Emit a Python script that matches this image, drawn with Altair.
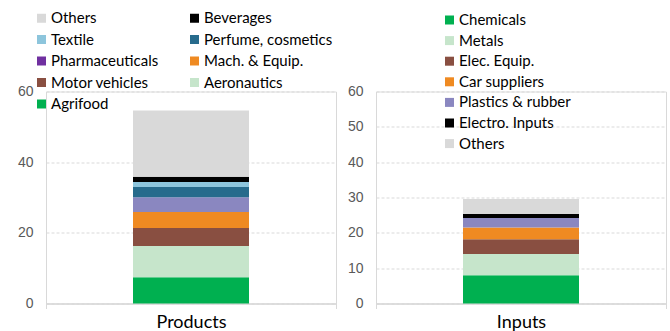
import altair as alt
import pandas as pd

# Products panel: stacked bottom -> top
prod_cats = ["Agrifood", "Aeronautics", "Motor vehicles", "Mach. & Equip.",
             "Pharmaceuticals", "Perfume, cosmetics", "Textile", "Beverages", "Others"]
prod_vals = [7.4, 8.9, 5.1, 4.5, 4.2, 2.9, 1.4, 1.5, 18.7]
prod_colors = ["#00b050", "#c6e5cb", "#894f41", "#ef8a22",
               "#7030a0", "#276b8c", "#8dc5dc", "#000000", "#d9d9d9"]
# legend fills column by column: left column first, then right column
prod_legend_order = ["Others", "Textile", "Pharmaceuticals", "Motor vehicles", "Agrifood",
                     "Beverages", "Perfume, cosmetics", "Mach. & Equip.", "Aeronautics"]

# Inputs panel: stacked bottom -> top
inp_cats = ["Chemicals", "Metals", "Elec. Equip.", "Car suppliers",
            "Plastics & rubber", "Electro. Inputs", "Others"]
inp_vals = [8.0, 6.0, 4.2, 3.3, 2.7, 1.1, 4.3]
inp_colors = ["#00b050", "#c6e5cb", "#894f41", "#ef8a22",
              "#8a87c0", "#000000", "#d9d9d9"]

pharma_bar_fill = "#8a87c0"

LEGEND_FONT = "Lato"
NUM_FONT = "Liberation Sans"
W, H = 290, 212

prod_df = pd.DataFrame({"group": "Products", "cat": prod_cats,
                        "val": prod_vals, "ord": range(len(prod_cats))})
inp_df = pd.DataFrame({"group": "Inputs", "cat": inp_cats,
                       "val": inp_vals, "ord": range(len(inp_cats))})

color_map = dict(zip(prod_cats, prod_colors))


def x_enc():
    return alt.X("group:N", title=None,
                 scale=alt.Scale(paddingInner=0, paddingOuter=0),
                 axis=alt.Axis(labelAngle=0, labelFont=LEGEND_FONT, labelFontSize=18,
                               labelColor="#000000", labelPadding=5,
                               domainColor="#d9d9d9", domainWidth=1.5,
                               tickColor="#d9d9d9", tickSize=5, tickBand="extent",
                               grid=True, gridColor="#d9d9d9", gridDash=[]))


def y_enc(step):
    return alt.Y("val:Q", stack="zero", title=None,
                 scale=alt.Scale(domain=[0, 60], nice=False),
                 axis=alt.Axis(values=list(range(0, 61, step)), domain=False, ticks=False,
                               labelFont=NUM_FONT, labelFontSize=14,
                               labelColor="#595959", labelPadding=13,
                               gridColor="#d9d9d9", gridDash=[3, 2]))


def legend(x, y, cols, row_pad):
    return alt.Legend(title=None, orient="none", legendX=x, legendY=y,
                      columns=cols, columnPadding=28, rowPadding=row_pad,
                      symbolType="square", symbolSize=81,
                      symbolStrokeWidth=0, symbolOffset=0,
                      labelFont=LEGEND_FONT, labelFontSize=15,
                      labelColor="#000000", labelOffset=2)


prod_chart = alt.Chart(prod_df).mark_bar(width={"band": 0.4}).encode(
    x=x_enc(),
    y=y_enc(20),
    order=alt.Order("ord:Q"),
    fill=alt.condition(
        alt.datum.cat == "Pharmaceuticals",
        alt.value(pharma_bar_fill),
        alt.Fill("cat:N",
                 scale=alt.Scale(domain=prod_legend_order,
                                 range=[color_map[c] for c in prod_legend_order]),
                 legend=legend(-12, -81, 2, 5.5)),
    ),
).properties(width=W, height=H)

inp_chart = alt.Chart(inp_df).mark_bar(width={"band": 0.4}).encode(
    x=x_enc(),
    y=y_enc(10),
    order=alt.Order("ord:Q"),
    fill=alt.Fill("cat:N",
                  scale=alt.Scale(domain=inp_cats, range=inp_colors),
                  legend=legend(66, -79, 1, 4.6)),
).properties(width=W, height=H)

chart = alt.hconcat(prod_chart, inp_chart, spacing=40, bounds="flush").resolve_scale(
    fill="independent"
).properties(
    padding={"left": 16, "top": 9.5, "right": 0, "bottom": 0},
).configure_view(stroke=None).configure(background="#ffffff")

chart.save("out.html", embed_options={"renderer": "svg", "actions": False})
